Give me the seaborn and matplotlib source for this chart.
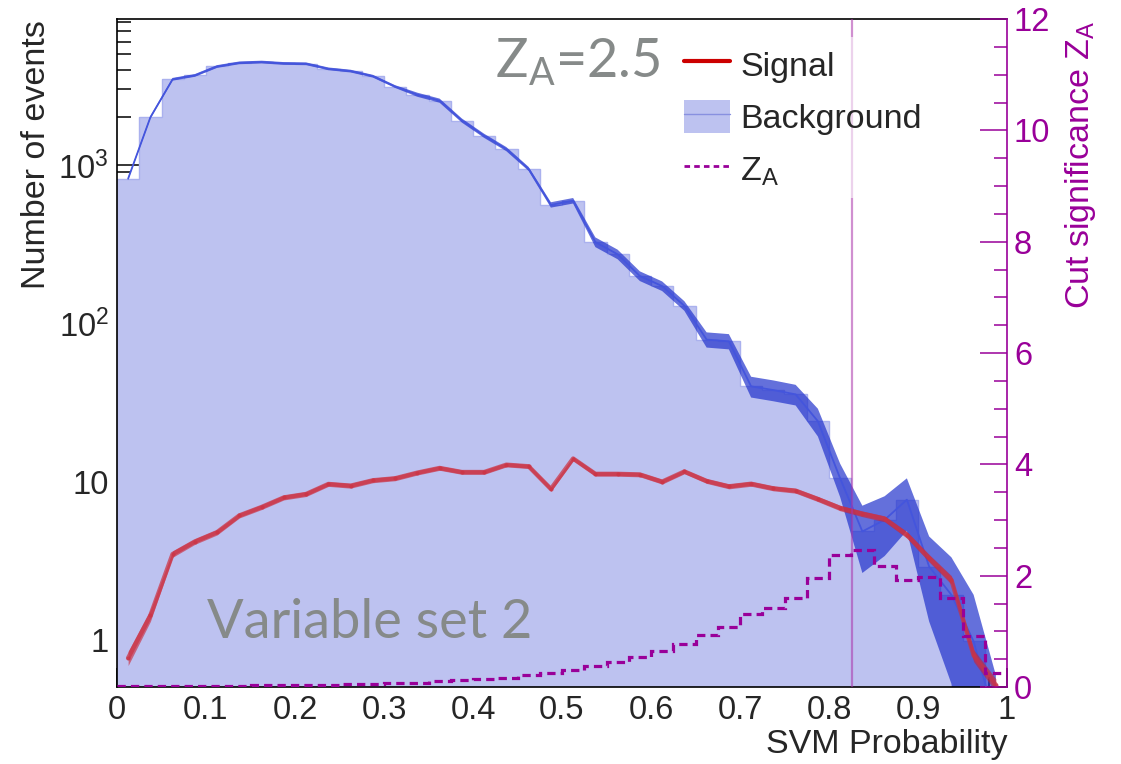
import numpy as np
import pandas as pd
import matplotlib
matplotlib.use('Agg')
import matplotlib.pyplot as plt
import seaborn as sns
from matplotlib.patches import Patch
from matplotlib.lines import Line2D
from matplotlib.ticker import FixedLocator, MultipleLocator, LogLocator, FuncFormatter, NullFormatter, FixedFormatter

# ---------------- data ----------------
bin_width = 0.025
bin_edges = np.arange(0, 1.0 + bin_width / 2, bin_width)

background = [820, 2000, 3480, 3680, 4190, 4420, 4470, 4380, 4360, 4050,
              3920, 3640, 3130, 2780, 2550, 1910, 1530, 1260, 945, 560,
              595, 326, 273, 199, 172, 129, 79, 77, 40, 37.9,
              35.6, 24.1, 10.5, 4.85, 5.74, 7.7, 2.91, 1.93, 0.98, 0.3]
background_err = [16, 40, 70, 74, 84, 88, 89, 88, 87, 81,
                  78, 73, 63, 83, 77, 57, 46, 38, 28, 22,
                  24, 23, 19, 14, 12, 9, 8.7, 8.5, 6, 5.7,
                  5.3, 4.8, 2.5, 2.2, 2.35, 2.8, 1.6, 1.4, 0.95, 0.3]
signal = [0.77, 1.43, 3.49, 4.19, 4.80, 6.12, 6.92, 7.95, 8.36, 9.67,
          9.43, 10.2, 10.5, 11.4, 12.2, 11.5, 11.5, 12.8, 12.5, 9.0,
          14.0, 11.2, 11.2, 11.1, 10.0, 11.6, 10.1, 9.34, 9.7, 9.07,
          8.77, 7.77, 6.82, 6.27, 5.83, 4.62, 3.29, 2.40, 0.80, 0.52]
signal_err = [0.08, 0.12, 0.16, 0.17, 0.19, 0.22, 0.25, 0.28, 0.3, 0.33,
              0.33, 0.35, 0.36, 0.38, 0.4, 0.38, 0.38, 0.4, 0.4, 0.32,
              0.42, 0.37, 0.37, 0.37, 0.35, 0.38, 0.35, 0.33, 0.34, 0.32,
              0.31, 0.29, 0.27, 0.26, 0.25, 0.22, 0.18, 0.15, 0.07, 0.05]
z_a = [0.01, 0.01, 0.015, 0.02, 0.02, 0.025, 0.03, 0.03, 0.035, 0.04,
       0.05, 0.06, 0.07, 0.08, 0.10, 0.12, 0.14, 0.17, 0.21, 0.25,
       0.31, 0.38, 0.45, 0.54, 0.65, 0.78, 0.93, 1.07, 1.31, 1.42,
       1.60, 1.95, 2.37, 2.46, 2.17, 1.92, 1.98, 1.59, 0.92, 0.25]
optimal_cut = 0.826
z_a_max_label = 2.5

y_tick_values = [1, 10, 100, 1000]
y_tick_labels = ['1', '10', '$10^{2}$', '$10^{3}$']

# ---------------- style ----------------
sns.set_style('ticks')
plt.rcParams['font.family'] = ['Liberation Sans', 'DejaVu Sans']
plt.rcParams['mathtext.fontset'] = 'custom'
plt.rcParams['mathtext.rm'] = 'Liberation Sans'
plt.rcParams['mathtext.it'] = 'Liberation Sans:italic'
plt.rcParams['mathtext.bf'] = 'Liberation Sans:bold'

PURPLE = '#990099'
GRAY = '#868a89'
W, H = 1121, 764
FS_TICK = 23.5
FS_TITLE = 24.5

fig = plt.figure(figsize=(W / 100, H / 100), dpi=100)
ax = fig.add_axes([117 / W, 1 - 687 / H, 890 / W, 668 / H])
ax.set_yscale('log')

centers = bin_edges[:-1] + bin_width / 2
df = pd.DataFrame({'x': centers, 'bg': background, 'sig': signal})
bg = np.array(background)
bge = np.array(background_err)
sg = np.array(signal)
sge = np.array(signal_err)

# background histogram (light fill)
ax.stairs(background, bin_edges, fill=True, facecolor='#bdc2f0', edgecolor='none',
          baseline=0.01, zorder=1)
ax.stairs(background, bin_edges, color='#aab1ee', lw=1, baseline=None, zorder=1.1)
# background error band + line
ax.fill_between(centers, np.clip(bg - bge, 0.05, None), bg + bge,
                color='#2233cc', alpha=0.7, lw=0, zorder=2)
sns.lineplot(data=df, x='x', y='bg', ax=ax, color='#4455dd', lw=1.3, zorder=3)
# signal band + line
ax.fill_between(centers, np.clip(sg - sge, 0.05, None), sg + sge,
                color='#cc2233', alpha=0.6, lw=0, zorder=4)
sns.lineplot(data=df, x='x', y='sig', ax=ax, color='#cc3344', lw=3.2, alpha=0.72,
             marker='o', markersize=3, markeredgewidth=0, zorder=5)

ax.set_xlim(0, 1)
ax.set_ylim(0.505, 8360)
ax.set_xlabel('')
ax.set_ylabel('')

# axis ticks
ax.xaxis.set_major_locator(MultipleLocator(0.1))
ax.xaxis.set_minor_locator(MultipleLocator(0.02))
ax.xaxis.set_major_formatter(FuncFormatter(lambda v, p: f'{v:.1f}'.rstrip('0').rstrip('.') if v else '0'))
ax.yaxis.set_major_locator(FixedLocator(y_tick_values))
ax.yaxis.set_major_formatter(FixedFormatter(y_tick_labels))
ax.yaxis.set_minor_locator(LogLocator(base=10, subs=np.arange(2, 10)))
ax.yaxis.set_minor_formatter(NullFormatter())
ax.tick_params(axis='both', which='both', direction='in', color='black')
ax.tick_params(axis='y', which='major', length=19.5, width=1.1, labelsize=FS_TICK, pad=6,
               left=True, right=False)
ax.tick_params(axis='y', which='minor', length=10, width=1.1, left=True, right=False)
ax.tick_params(axis='x', which='major', length=14, width=1.1, labelsize=FS_TICK, pad=6,
               top=False)
ax.tick_params(axis='x', which='minor', length=7, width=1.1, top=False)
for s in ['left', 'bottom', 'top']:
    ax.spines[s].set_linewidth(1.2)
    ax.spines[s].set_color('black')
ax.spines['right'].set_visible(False)

# Z_A on right axis
ax2 = ax.twinx()
ax2.stairs(z_a, bin_edges, color=PURPLE, lw=2.3, ls=(0, (2.6, 1.6)), baseline=None, zorder=6)
ax2.axvline(optimal_cut, color='#aa33aa', alpha=0.55, lw=1.6, zorder=5)
ax2.set_ylim(0, 12)
ax2.yaxis.set_major_locator(MultipleLocator(2))
ax2.yaxis.set_minor_locator(MultipleLocator(0.5))
ax2.tick_params(axis='y', which='both', direction='in', colors=PURPLE)
ax2.tick_params(axis='y', which='major', length=19.5, width=1.1, labelsize=FS_TICK, pad=5)
ax2.tick_params(axis='y', which='minor', length=9.5, width=1.1)
ax2.spines['right'].set_color(PURPLE)
ax2.spines['right'].set_linewidth(1.2)
for s in ['left', 'bottom', 'top']:
    ax2.spines[s].set_visible(False)

# axis titles
fig.text(37 / W, 1 - 155 / H, 'Number of events', rotation=90, ha='center', va='center',
         fontsize=FS_TITLE)
fig.text(1007 / W, 1 - 745 / H, 'SVM Probability', ha='right', va='center', fontsize=FS_TITLE)
fig.text(1080 / W, 1 - 165 / H, 'Cut significance $\\mathregular{Z_{A}}$', rotation=90,
         ha='center', va='center', fontsize=FS_TITLE, color=PURPLE)

# annotations
fig.text(495 / W, 1 - 78 / H, '$\\mathregular{Z_{A}}$=' + f'{z_a_max_label}', fontsize=39,
         family='Lato', color=GRAY, va='baseline')
fig.text(207 / W, 1 - 638 / H, 'Variable set 2', fontsize=39, family='Lato', color=GRAY,
         va='baseline')

# legend
handles = [Line2D([], [], color='#cc0000', lw=3),
           (Patch(facecolor='#bdc2f0', edgecolor='none'), Line2D([], [], color='#8890e0', lw=1)),
           Line2D([], [], color=PURPLE, lw=2, ls=(0, (2, 1.5)))]
leg = ax2.legend(handles, ['Signal', 'Background', '$\\mathregular{Z_{A}}$'],
                 loc='upper left', bbox_to_anchor=(674 / W, 1 - 37 / H),
                 bbox_transform=fig.transFigure, borderaxespad=0, frameon=True,
                 fontsize=FS_TITLE, handlelength=1.35, handletextpad=0.3, labelspacing=0.5,
                 borderpad=0.3, handleheight=1.15, fancybox=False)
leg.get_frame().set_facecolor('white')
leg.get_frame().set_alpha(0.6)
leg.get_frame().set_edgecolor('none')

fig.savefig('out.png', dpi=100)
